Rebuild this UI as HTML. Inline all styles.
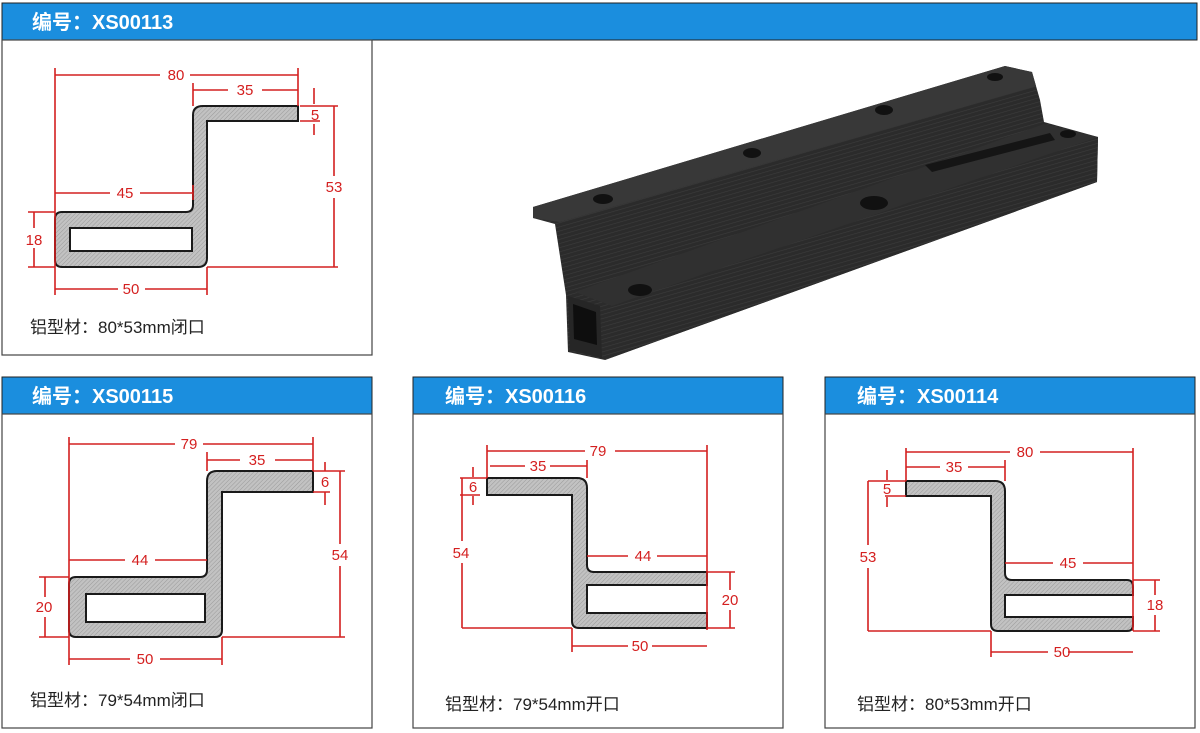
<!DOCTYPE html>
<html><head><meta charset="utf-8"><style>
html,body{margin:0;padding:0;background:#fff;}
body{width:1200px;height:733px;overflow:hidden;position:relative;font-family:"Liberation Sans","Noto Sans CJK SC",sans-serif;}
svg{position:absolute;left:0;top:0}
</style></head><body>
<svg width="1200" height="733" viewBox="0 0 1200 733" xmlns="http://www.w3.org/2000/svg">
<defs>
<pattern id="h" width="3" height="3" patternUnits="userSpaceOnUse" patternTransform="rotate(45)">
<rect width="3" height="3" fill="#c2c2c2"/><line x1="0" y1="0" x2="0" y2="3" stroke="#969696" stroke-width="0.9"/>
</pattern>
<pattern id="rib" width="4" height="4" patternUnits="userSpaceOnUse" patternTransform="rotate(-16)">
<rect width="4" height="4" fill="#2b2b2b"/><line x1="0" y1="0" x2="4" y2="0" stroke="#3c3c3c" stroke-width="1.2"/>
</pattern>
</defs>
<g font-family="Liberation Sans, Noto Sans CJK SC, sans-serif">
<rect x="2" y="3" width="1195" height="37" fill="#1b8ede" stroke="#222" stroke-width="1"/>
<text x="32" y="29" font-size="20" font-weight="bold" fill="#fff">编号：XS00113</text>
<rect x="2" y="40" width="370" height="315" fill="#fff" stroke="#444" stroke-width="1.2"/>

<rect x="2" y="377" width="370" height="37" fill="#1b8ede" stroke="#222"/>
<text x="32" y="403" font-size="20" font-weight="bold" fill="#fff">编号：XS00115</text>
<rect x="2" y="414" width="370" height="314" fill="#fff" stroke="#444" stroke-width="1.2"/>

<rect x="413" y="377" width="370" height="37" fill="#1b8ede" stroke="#222"/>
<text x="445" y="403" font-size="20" font-weight="bold" fill="#fff">编号：XS00116</text>
<rect x="413" y="414" width="370" height="314" fill="#fff" stroke="#444" stroke-width="1.2"/>

<rect x="825" y="377" width="370" height="37" fill="#1b8ede" stroke="#222"/>
<text x="857" y="403" font-size="20" font-weight="bold" fill="#fff">编号：XS00114</text>
<rect x="825" y="414" width="370" height="314" fill="#fff" stroke="#444" stroke-width="1.2"/>

<g font-size="17" fill="#222">
<text x="30" y="333">铝型材：80*53mm闭口</text>
<text x="30" y="706">铝型材：79*54mm闭口</text>
<text x="445" y="710">铝型材：79*54mm开口</text>
<text x="857" y="710">铝型材：80*53mm开口</text>
</g>

<g stroke="#1a1a1a" stroke-width="2" fill="url(#h)">
<path d="M193,115 Q193,106 203,106 L298,106 L298,121 L207,121 L207,258 Q207,267 198,267 L62,267 Q55,267 55,260 L55,219 Q55,212 62,212 L186,212 Q193,212 193,205 Z M70,228 L192,228 L192,251 L70,251 Z" fill-rule="evenodd"/>
<path d="M207,481 Q207,471 217,471 L313,471 L313,492 L222,492 L222,630 Q222,637 215,637 L76,637 Q69,637 69,630 L69,584 Q69,577 76,577 L200,577 Q207,577 207,570 Z M86,594 L205,594 L205,622 L86,622 Z" fill-rule="evenodd"/>
<path d="M487,478 L577,478 Q587,478 587,488 L587,565 Q587,572 594,572 L707,572 L707,585 L587,585 L587,613 L707,613 L707,628 L579,628 Q572,628 572,621 L572,495 L487,495 Z"/>
<path d="M906,481 L995,481 Q1005,481 1005,491 L1005,573 Q1005,580 1012,580 L1127,580 Q1133,580 1133,587 L1133,595 L1005,595 L1005,617 L1133,617 L1133,625 Q1133,631 1127,631 L998,631 Q991,631 991,624 L991,496 L906,496 Z"/>
</g>

<g stroke="#d42020" stroke-width="1.6" fill="none">
<path d="M55,68V295 M298,68V106 M55,75H160 M190,75H298 M193,83V106 M193,90H228 M262,90H298 M314,88V104 M314,124V135 M300,106H338 M300,121H320 M334,106V176 M334,198V267 M207,267H338 M55,193H110 M140,193H193 M28,212H55 M28,267H55 M34,212V228 M34,248V267 M207,267V295 M55,289H118 M145,289H207 M193,185V200"/>
<path d="M69,437V665 M313,437V471 M69,444H175 M203,444H313 M207,452V471 M207,460H240 M275,460H313 M325,462V471 M325,492V505 M313,471H345 M313,492H330 M340,471V544 M340,566V637 M222,637H345 M69,560H125 M155,560H207 M39,577H69 M39,637H69 M45,577V597 M45,617V637 M222,637V665 M69,659H130 M160,659H222"/>
<path d="M487,445V478 M707,445V630 M487,451H585 M615,451H707 M490,466H525 M550,466H587 M587,460V478 M473,467V477 M473,496V505 M460,478H487 M460,495H480 M462,478V541 M462,563V628 M462,628H572 M587,556H628 M657,556H707 M707,572H735 M707,628H735 M730,572V590 M730,610V628 M572,628V652 M572,646H628 M652,646H707"/>
<path d="M906,448V481 M1133,448V631 M906,452H1010 M1040,452H1133 M906,467H940 M968,467H1005 M1005,460V481 M887,470V480 M887,497V507 M868,481H906 M885,496H906 M868,481V545 M868,568V631 M868,631H991 M1005,563H1053 M1083,563H1133 M1133,580H1160 M1133,631H1160 M1155,580V595 M1155,615V631 M991,631V657 M991,652H1048 M1068,652H1133"/>
</g>
<g font-size="15" fill="#d42020" text-anchor="middle">
<text x="176" y="80">80</text><text x="245" y="95">35</text><text x="315" y="120">5</text><text x="334" y="192">53</text>
<text x="125" y="198">45</text><text x="34" y="245">18</text><text x="131" y="294">50</text>
<text x="189" y="449">79</text><text x="257" y="465">35</text><text x="325" y="487">6</text><text x="340" y="560">54</text>
<text x="140" y="565">44</text><text x="44" y="612">20</text><text x="145" y="664">50</text>
<text x="598" y="456">79</text><text x="538" y="471">35</text><text x="473" y="492">6</text><text x="461" y="558">54</text>
<text x="643" y="561">44</text><text x="730" y="605">20</text><text x="640" y="651">50</text>
<text x="1025" y="457">80</text><text x="954" y="472">35</text><text x="887" y="494">5</text><text x="868" y="562">53</text>
<text x="1068" y="568">45</text><text x="1155" y="610">18</text><text x="1062" y="657">50</text>
</g>

<g>
<polygon points="533,207 1005,66 1032,72 1040,100 1044,122 1098,137 1097,182 605,360 568,352 566,295 555,224 533,218" fill="url(#rib)"/>
<polygon points="533,207 1005,66 1032,72 1036,86 560,222 533,218" fill="#383838"/>
<polygon points="575,292 1044,124 1098,137 612,306" fill="#303030"/>
<polygon points="612,306 1098,137 1097,182 605,360" fill="url(#rib)"/>
<polygon points="568,296 600,306 602,358 570,350" fill="#262626"/>
<polygon points="573,304 596,312 597,345 574,339" fill="#0e0e0e"/>
<ellipse cx="603" cy="199" rx="10" ry="5" fill="#111"/>
<ellipse cx="752" cy="153" rx="9" ry="5" fill="#111"/>
<ellipse cx="884" cy="110" rx="9" ry="5" fill="#111"/>
<ellipse cx="995" cy="77" rx="8" ry="4" fill="#111"/>
<ellipse cx="874" cy="203" rx="14" ry="7" fill="#111"/>
<ellipse cx="640" cy="290" rx="12" ry="6" fill="#111"/>
<ellipse cx="1068" cy="134" rx="8" ry="4" fill="#111"/>
<polygon points="925,165 1050,133 1055,140 932,172" fill="#151515"/>
</g>
</g>
</svg>
</body></html>
